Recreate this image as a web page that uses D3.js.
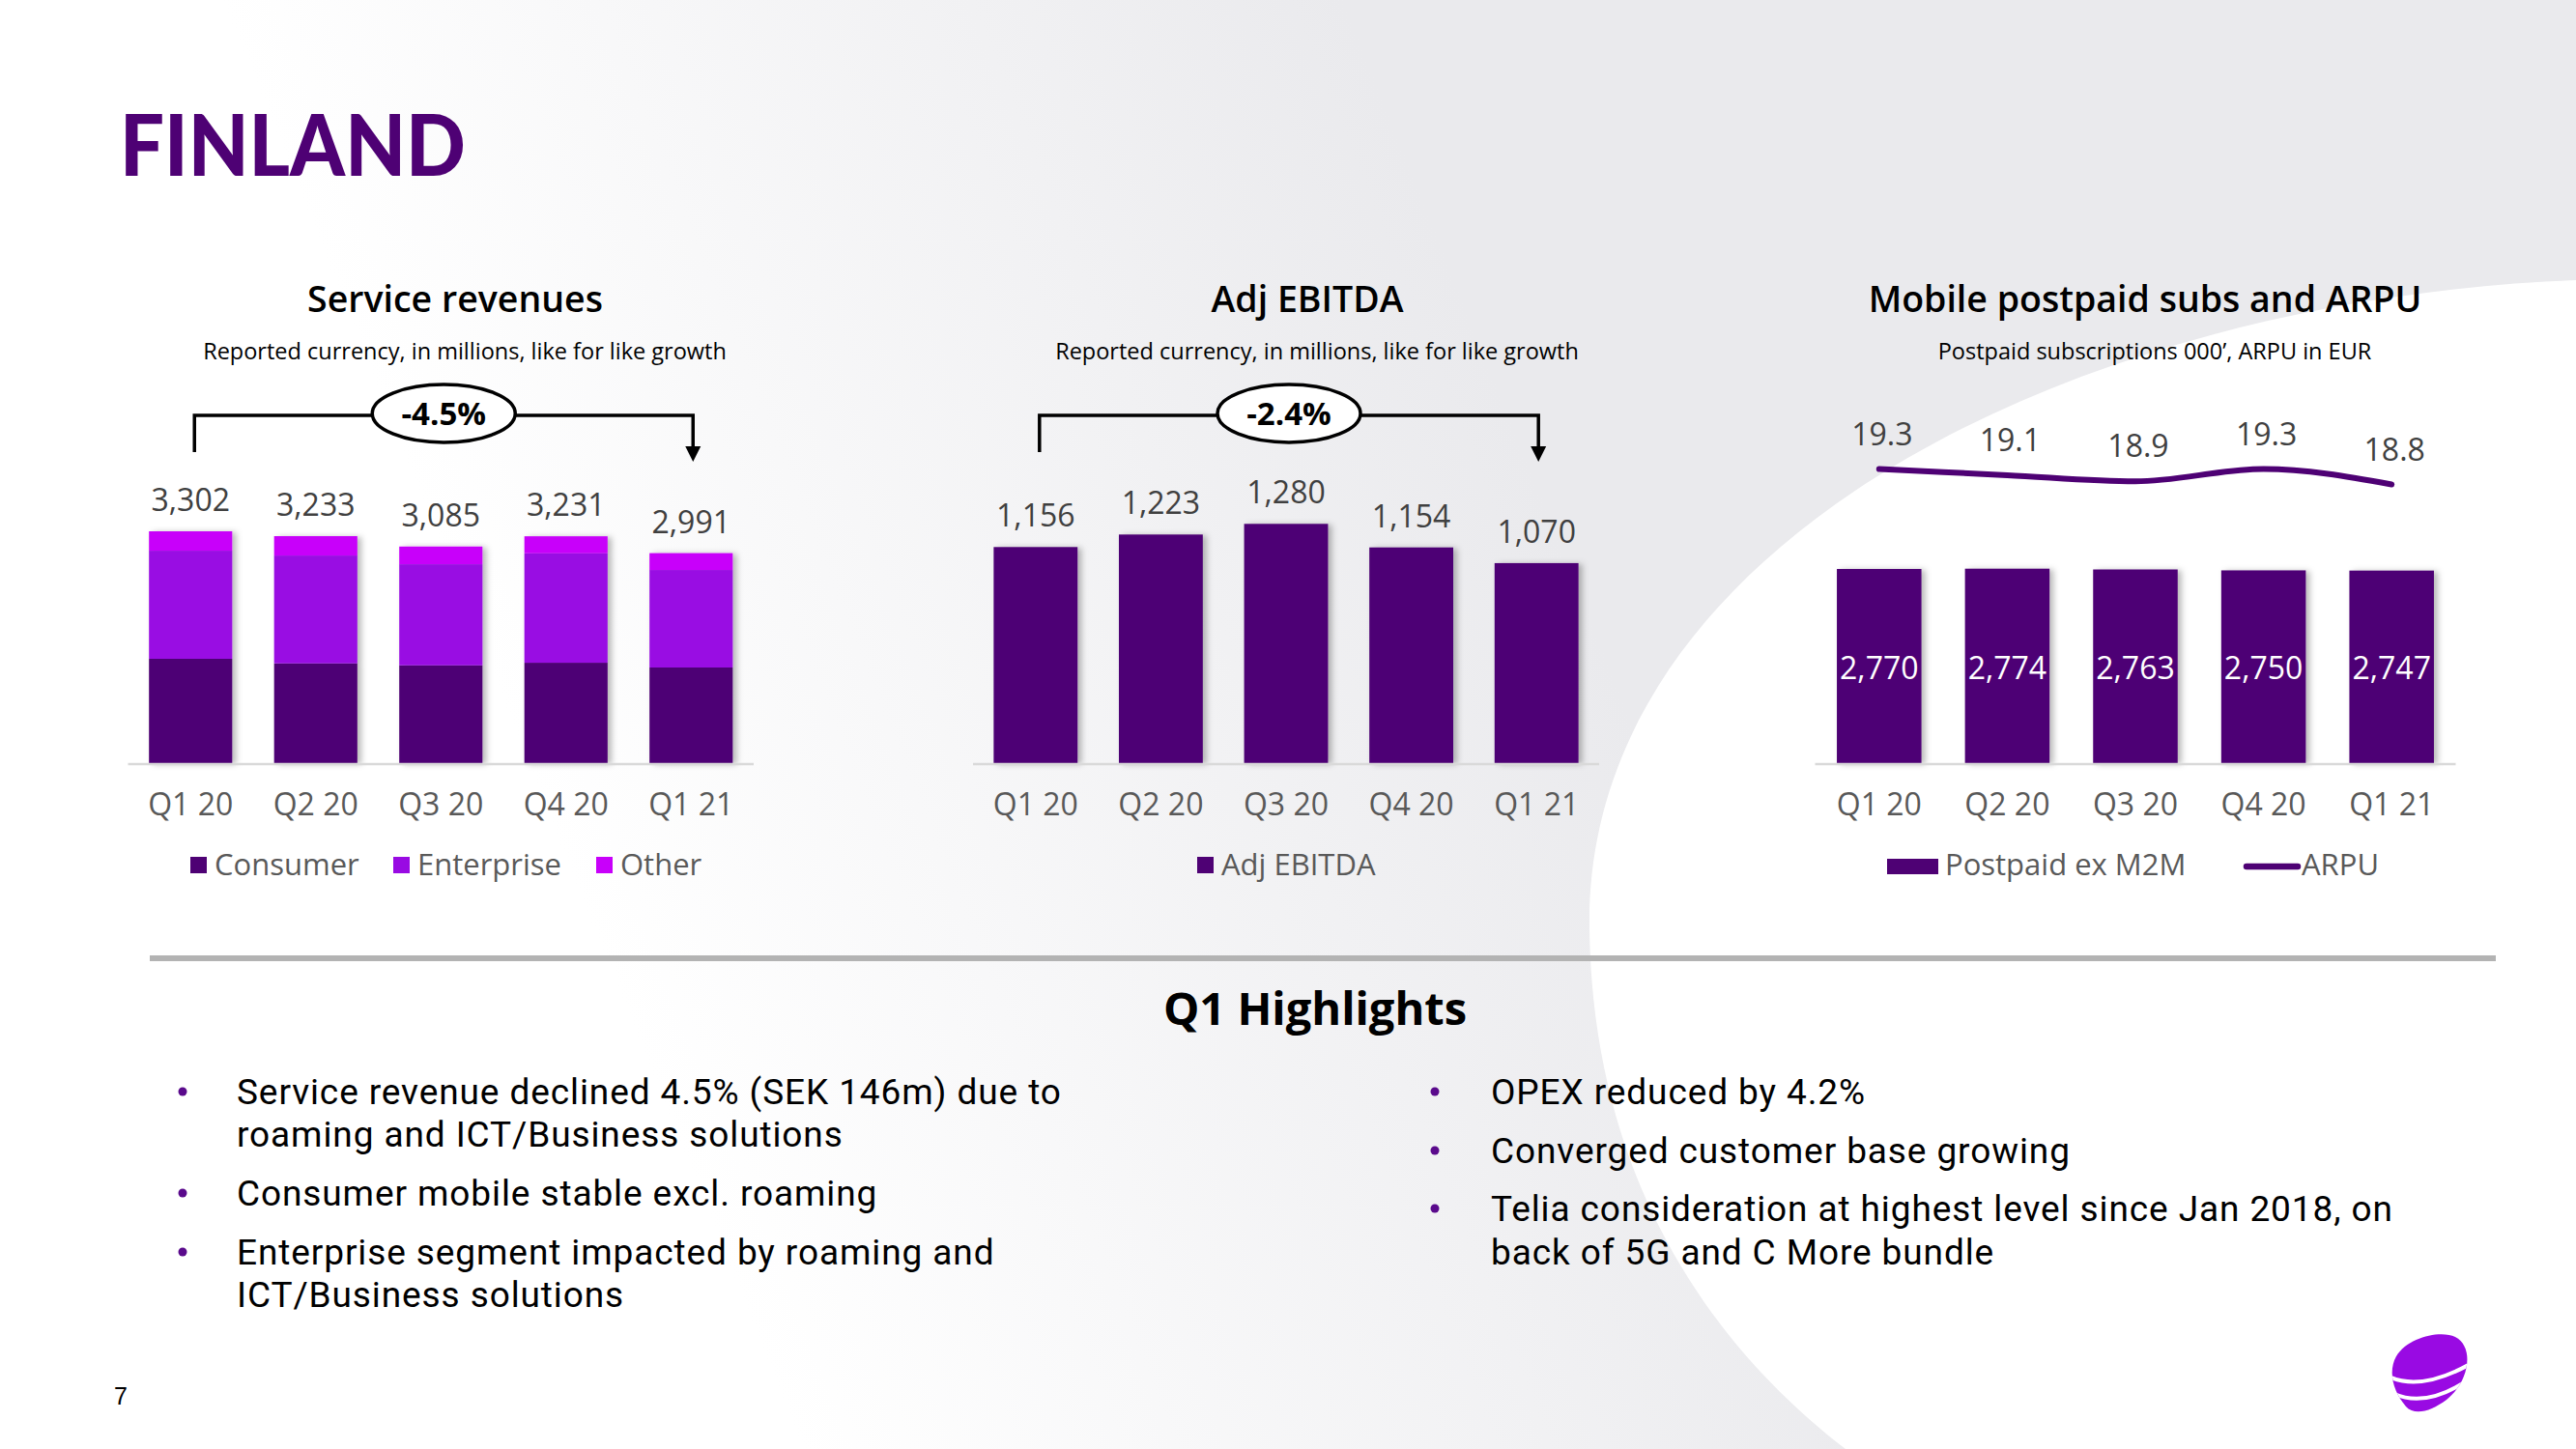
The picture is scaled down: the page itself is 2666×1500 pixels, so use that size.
<!DOCTYPE html>
<html>
<head>
<meta charset="utf-8">
<script src="https://cdn.jsdelivr.net/npm/d3@7"></script>
<style>
  html, body { margin: 0; padding: 0; background: #fff; }
  svg { display: block; }
  text { font-family: "Open Sans", "Noto Sans", sans-serif; }
</style>
</head>
<body>
<svg id="chart" width="2666" height="1500"></svg>
<script>
// ---------------- DATA ----------------
const quarters = ["Q1 20", "Q2 20", "Q3 20", "Q4 20", "Q1 21"];

// Service revenues (SEK m), stacked
const srvConsumer   = [1486, 1421, 1393, 1430, 1362];
const srvEnterprise = [1540, 1536, 1440, 1559, 1389];
const srvOther      = [276, 276, 252, 242, 240];
const srvTotal      = [3302, 3233, 3085, 3231, 2991];
const srvSeries     = ["Consumer", "Enterprise", "Other"];
const srvGrowth     = "-4.5%";

// Adj EBITDA (SEK m)
const ebitda       = [1156, 1223, 1280, 1154, 1070];
const ebitdaGrowth = "-2.4%";

// Mobile postpaid subs (000') and ARPU (EUR)
const postpaid = [2770, 2774, 2763, 2750, 2747];
const arpu     = [19.3, 19.1, 18.9, 19.3, 18.8];

const bulletsLeft = [
  ["Service revenue declined 4.5% (SEK 146m) due to", "roaming and ICT/Business solutions"],
  ["Consumer mobile stable excl. roaming"],
  ["Enterprise segment impacted by roaming and", "ICT/Business solutions"]
];
const bulletsRight = [
  ["OPEX reduced by 4.2%"],
  ["Converged customer base growing"],
  ["Telia consideration at highest level since Jan 2018, on", "back of 5G and C More bundle"]
];

// ---------------- STYLE ----------------
const C_DARK = "#4e0174", C_ENT = "#990ae3", C_OTHER = "#c800fa";
const srvColors = [C_DARK, C_ENT, C_OTHER];
const fmt = d3.format(",");

const svg = d3.select("#chart");
const defs = svg.append("defs");

// background gradient
const grad = defs.append("linearGradient").attr("id", "bg")
  .attr("gradientUnits", "userSpaceOnUse")
  .attr("x1", 650).attr("y1", 1050).attr("x2", 1650).attr("y2", 650);
grad.append("stop").attr("offset", 0).attr("stop-color", "#ffffff");
grad.append("stop").attr("offset", 1).attr("stop-color", "#eaeaed");

const shadow = defs.append("filter").attr("id", "shadow")
  .attr("x", "-20%").attr("y", "-5%").attr("width", "150%").attr("height", "110%");
shadow.append("feDropShadow").attr("dx", 4).attr("dy", 1).attr("stdDeviation", 3)
  .attr("flood-color", "#000").attr("flood-opacity", 0.28);

svg.append("rect").attr("width", 2666).attr("height", 1500).attr("fill", "url(#bg)");
svg.append("path")
  .attr("d", "M2666,290 C2150,310 1640,560 1645,960 C1648,1230 1780,1400 1910,1500 L2666,1500 Z")
  .attr("fill", "#ffffff");

// ---------------- HEADER ----------------
svg.append("text").attr("x", 124).attr("y", 182)
  .attr("textLength", 358).attr("lengthAdjust", "spacingAndGlyphs")
  .style("font-family", "Lato, 'Open Sans', sans-serif")
  .style("font-weight", 900).style("font-size", "87px").attr("fill", C_DARK)
  .text("FINLAND");

svg.append("text").attr("x", 118).attr("y", 1454)
  .style("font-family", "'Liberation Sans', Arial, sans-serif")
  .style("font-size", "25px").attr("fill", "#000").text("7");

// ---------------- HELPERS ----------------
const baseY = 790;

function panelTitle(cx, title, sub) {
  svg.append("text").attr("x", cx).attr("y", 323).attr("text-anchor", "middle")
    .style("font-weight", 600).style("font-size", "37.5px").attr("fill", "#000").text(title);
  svg.append("text").attr("x", cx + 10).attr("y", 372).attr("text-anchor", "middle")
    .style("font-size", "23.5px").attr("fill", "#000").text(sub);
}

function xAxis(x) {
  const [r0, r1] = x.range();
  svg.append("line").attr("x1", r0).attr("x2", r1).attr("y1", baseY + 1).attr("y2", baseY + 1)
    .attr("stroke", "#d9d9d9").attr("stroke-width", 2.5);
  const ax = d3.axisBottom(x).tickSize(0).tickPadding(0);
  const g = svg.append("g").attr("transform", `translate(0,${baseY})`).call(ax);
  g.select(".domain").remove();
  g.selectAll("text").attr("dy", null).attr("y", 54)
    .style("font-family", "'Open Sans', sans-serif")
    .style("font-size", "32px").attr("fill", "#595959");
}

function bracket(x, label) {
  const xa = x(quarters[0]) + x.bandwidth() / 2 + 4;
  const xb = x(quarters[4]) + x.bandwidth() / 2 + 2;
  const y = 430, cx = (xa + xb) / 2;
  const g = svg.append("g");
  g.append("path").attr("d", `M${xa},468 L${xa},${y} L${xb},${y} L${xb},466`)
    .attr("fill", "none").attr("stroke", "#000").attr("stroke-width", 3.5);
  g.append("path").attr("d", `M${xb - 8},462 L${xb + 8},462 L${xb},478 Z`).attr("fill", "#000");
  g.append("ellipse").attr("cx", cx).attr("cy", 428).attr("rx", 74).attr("ry", 30)
    .attr("fill", "#fff").attr("stroke", "#000").attr("stroke-width", 3.5);
  g.append("text").attr("x", cx).attr("y", 440).attr("text-anchor", "middle")
    .style("font-weight", 700).style("font-size", "33px").attr("fill", "#000").text(label);
}

// ---------------- CHART 1: Service revenues ----------------
{
  const x = d3.scaleBand().domain(quarters).range([132.5, 780]).paddingInner(0.335).paddingOuter(0.1675);
  const y = d3.scaleLinear().domain([0, 3302]).range([baseY, 550]);
  const rows = quarters.map((q, i) => ({ q, Consumer: srvConsumer[i], Enterprise: srvEnterprise[i], Other: srvOther[i] }));
  const stacked = d3.stack().keys(srvSeries)(rows);

  panelTitle(471, "Service revenues", "Reported currency, in millions, like for like growth");

  const gBars = svg.append("g").attr("filter", "url(#shadow)");
  stacked.forEach((s, si) => {
    gBars.selectAll(null).data(s).join("rect")
      .attr("x", d => x(d.data.q)).attr("width", x.bandwidth())
      .attr("y", d => y(d[1])).attr("height", d => y(d[0]) - y(d[1]))
      .attr("fill", srvColors[si]);
  });
  xAxis(x);
  svg.selectAll(null).data(srvTotal).join("text")
    .attr("x", (d, i) => x(quarters[i]) + x.bandwidth() / 2)
    .attr("y", d => y(d) - 21).attr("text-anchor", "middle")
    .style("font-size", "32px").attr("fill", "#404040").text(d => fmt(d));
  bracket(x, srvGrowth);

  // legend
  const lg = [{ x: 197, t: "Consumer" }, { x: 407, t: "Enterprise" }, { x: 617, t: "Other" }];
  lg.forEach((l, i) => {
    svg.append("rect").attr("x", l.x).attr("y", 887).attr("width", 17).attr("height", 17).attr("fill", srvColors[i]);
    svg.append("text").attr("x", l.x + 25).attr("y", 906).style("font-size", "31px")
      .attr("fill", "#595959").text(l.t);
  });
}

// ---------------- CHART 2: Adj EBITDA ----------------
{
  const x = d3.scaleBand().domain(quarters).range([1007, 1655]).paddingInner(0.33).paddingOuter(0.165);
  const y = d3.scaleLinear().domain([0, 1280]).range([baseY, 542.3]);
  panelTitle(1353, "Adj EBITDA", "Reported currency, in millions, like for like growth");

  svg.append("g").attr("filter", "url(#shadow)").selectAll("rect").data(ebitda).join("rect")
    .attr("x", (d, i) => x(quarters[i])).attr("width", x.bandwidth())
    .attr("y", d => y(d)).attr("height", d => baseY - y(d)).attr("fill", C_DARK);
  xAxis(x);
  svg.selectAll(null).data(ebitda).join("text")
    .attr("x", (d, i) => x(quarters[i]) + x.bandwidth() / 2)
    .attr("y", d => y(d) - 21).attr("text-anchor", "middle")
    .style("font-size", "32px").attr("fill", "#404040").text(d => fmt(d));
  bracket(x, ebitdaGrowth);

  svg.append("rect").attr("x", 1239).attr("y", 887).attr("width", 17).attr("height", 17).attr("fill", C_DARK);
  svg.append("text").attr("x", 1264).attr("y", 906).style("font-size", "31px")
    .attr("fill", "#595959").text("Adj EBITDA");
}

// ---------------- CHART 3: Mobile postpaid subs and ARPU ----------------
{
  const x = d3.scaleBand().domain(quarters).range([1878.5, 2541.5]).paddingInner(0.34).paddingOuter(0.17);
  const y = d3.scaleLinear().domain([0, 2770]).range([baseY, 589]);
  const ya = d3.scaleLinear().domain([18.8, 19.3]).range([501.5, 485.5]);
  panelTitle(2220, "Mobile postpaid subs and ARPU", "Postpaid subscriptions 000’, ARPU in EUR");

  svg.append("g").attr("filter", "url(#shadow)").selectAll("rect").data(postpaid).join("rect")
    .attr("x", (d, i) => x(quarters[i])).attr("width", x.bandwidth())
    .attr("y", d => y(d)).attr("height", d => baseY - y(d)).attr("fill", C_DARK);
  xAxis(x);
  svg.selectAll(null).data(postpaid).join("text")
    .attr("x", (d, i) => x(quarters[i]) + x.bandwidth() / 2)
    .attr("y", 703).attr("text-anchor", "middle")
    .style("font-size", "32px").attr("fill", "#ffffff").text(d => fmt(d));

  const line = d3.line().curve(d3.curveMonotoneX)
    .x((d, i) => x(quarters[i]) + x.bandwidth() / 2).y(d => ya(d));
  svg.append("path").datum(arpu).attr("d", line)
    .attr("fill", "none").attr("stroke", C_DARK).attr("stroke-width", 6).attr("stroke-linecap", "round");
  svg.selectAll(null).data(arpu).join("text")
    .attr("x", (d, i) => x(quarters[i]) + x.bandwidth() / 2 + 3)
    .attr("y", d => ya(d) - 25).attr("text-anchor", "middle")
    .style("font-size", "32px").attr("fill", "#404040").text(d => d3.format(".1f")(d));

  svg.append("rect").attr("x", 1953).attr("y", 889).attr("width", 53).attr("height", 16).attr("fill", C_DARK);
  svg.append("text").attr("x", 2013).attr("y", 906).style("font-size", "31px")
    .attr("fill", "#595959").text("Postpaid ex M2M");
  svg.append("line").attr("x1", 2325).attr("x2", 2378).attr("y1", 897).attr("y2", 897)
    .attr("stroke", C_DARK).attr("stroke-width", 6.5).attr("stroke-linecap", "round");
  svg.append("text").attr("x", 2382).attr("y", 906).style("font-size", "31px")
    .attr("fill", "#595959").text("ARPU");
}

// ---------------- HIGHLIGHTS ----------------
svg.append("rect").attr("x", 155).attr("y", 989).attr("width", 2428).attr("height", 6).attr("fill", "#b3b3b3");
svg.append("text").attr("x", 1361).attr("y", 1061).attr("text-anchor", "middle")
  .style("font-weight", 700).style("font-size", "47px").attr("fill", "#000").text("Q1 Highlights");

function bullets(list, bx, tx, baselines) {
  let k = 0;
  list.forEach(lines => {
    const y0 = baselines[k];
    svg.append("circle").attr("cx", bx).attr("cy", y0 - 13).attr("r", 4.5).attr("fill", "#5a0a8c");
    lines.forEach(s => {
      svg.append("text").attr("x", tx).attr("y", baselines[k])
        .style("font-family", "Roboto, 'Open Sans', sans-serif")
        .style("font-size", "37px").style("letter-spacing", "0.9px")
        .attr("fill", "#000").text(s);
      k++;
    });
  });
}
bullets(bulletsLeft, 189, 245, [1143, 1187, 1248, 1309, 1353]);
bullets(bulletsRight, 1485, 1543, [1143, 1204, 1264, 1309]);

// ---------------- LOGO ----------------
{
  const clip = defs.append("clipPath").attr("id", "logoClip");
  const egg = "M2541,1384 C2561,1394 2556,1430 2532,1449 C2516,1461 2499,1466 2490,1456 C2477,1441 2471,1420 2480,1404 C2492,1384 2526,1377 2541,1384 Z";
  clip.append("path").attr("d", egg);
  svg.append("path").attr("d", egg).attr("fill", "#990ae3");
  const g = svg.append("g").attr("clip-path", "url(#logoClip)");
  g.append("path").attr("d", "M2470,1424 Q2505,1442 2560,1410").attr("fill", "none")
    .attr("stroke", "#fff").attr("stroke-width", 4);
  g.append("path").attr("d", "M2478,1443 Q2510,1457 2552,1430").attr("fill", "none")
    .attr("stroke", "#fff").attr("stroke-width", 4);
}
</script>
</body>
</html>
